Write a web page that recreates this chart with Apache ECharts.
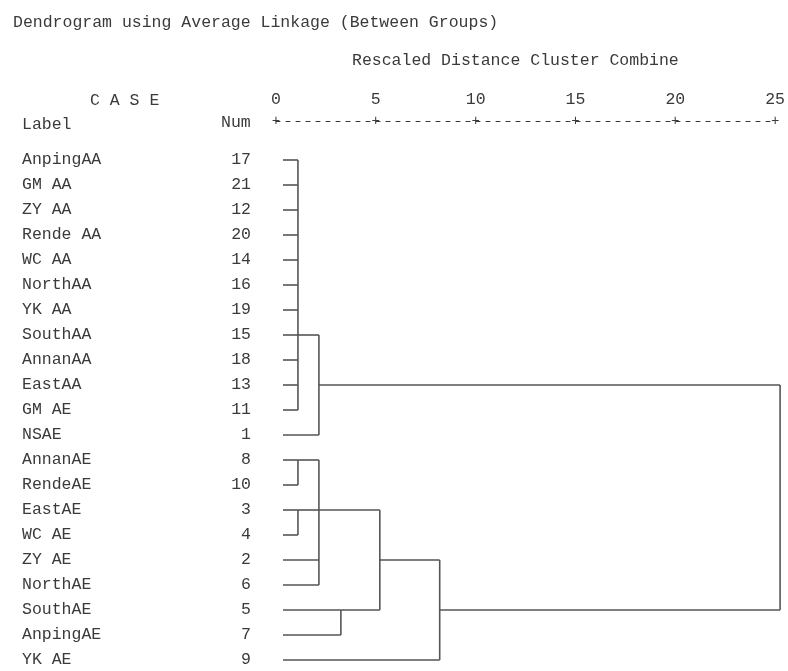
<!DOCTYPE html>
<html><head><meta charset="utf-8">
<script src="https://cdn.jsdelivr.net/npm/echarts@6/dist/echarts.min.js"></script>
<style>html,body{margin:0;padding:0;background:#fff}#c{width:788px;height:671px}</style>
</head><body><div id="c"></div>
<script>
// Cases, top to bottom
const caseLabels = ['AnpingAA','GM AA','ZY AA','Rende AA','WC AA','NorthAA','YK AA','SouthAA','AnnanAA','EastAA','GM AE','NSAE','AnnanAE','RendeAE','EastAE','WC AE','ZY AE','NorthAE','SouthAE','AnpingAE','YK AE'];
const caseNums = [17,21,12,20,14,16,19,15,18,13,11,1,8,10,3,4,2,6,5,7,9];
const xTickStep = 5;
const xMin = 0, xMax = 25;
const leafStart = 0.35;
// Merges: children are case rows (numbers) or earlier merges ('n' + index)
const mergeChildren = [
  [0,1,2,3,4,5,6,7,8,9,10],
  ['n0',11],
  [12,13],
  [14,15],
  ['n2','n3',16,17],
  [18,19],
  ['n4','n5'],
  ['n6',20],
  ['n1','n7']
];
// rescaled distance at which each merge happens
const mergeDist = [1.1, 2.15, 1.1, 1.1, 2.15, 3.25, 5.2, 8.2, 25.25];
// case row at which each merged cluster's line leaves
const mergeRow = [7, 9, 12, 14, 14, 18, 16, 18, null];

const FONT = 'Liberation Mono';
const TXT = '#3a3a3a';
const LINE = '#555555';

const segments = [];
mergeChildren.forEach((ch, i) => {
  const d = mergeDist[i];
  const rows = [];
  ch.forEach(c => {
    let r, x0;
    if (typeof c === 'number') { r = c; x0 = leafStart; }
    else { const j = +c.slice(1); r = mergeRow[j]; x0 = mergeDist[j]; }
    rows.push(r);
    segments.push([x0, r, d, r]);
  });
  segments.push([d, Math.min(...rows), d, Math.max(...rows)]);
});

const chart = echarts.init(document.getElementById('c'), null, {renderer: 'canvas'});
const tStyle = {fontFamily: FONT, fontSize: 16.5, fontWeight: 'normal', color: TXT};
chart.setOption({
  animation: false,
  backgroundColor: '#fff',
  textStyle: {fontFamily: FONT},
  title: [
    {text: 'Dendrogram using Average Linkage (Between Groups)', left: 13, top: 14, padding: 0, textStyle: tStyle},
    {text: 'Rescaled Distance Cluster Combine', left: 352, top: 52, padding: 0, textStyle: tStyle},
    {text: 'C A S E', left: 90, top: 92, padding: 0, textStyle: tStyle},
    {text: 'Label', left: 22, top: 116, padding: 0, textStyle: tStyle},
    {text: 'Num', left: 221, top: 114, padding: 0, textStyle: tStyle}
  ],
  grid: {left: 276, right: 10, top: 160, bottom: 11, containLabel: false},
  xAxis: {
    type: 'value', position: 'top', min: xMin, max: xMax, interval: xTickStep, offset: 39,
    axisLine: {show: true, lineStyle: {color: TXT, width: 1, type: [4, 6]}},
    axisTick: {show: false},
    splitLine: {show: false},
    axisLabel: {
      margin: -7,
      formatter: v => '{n|' + v + '}\n{p|+}',
      rich: {
        n: {fontFamily: FONT, fontSize: 16.5, color: TXT, lineHeight: 29},
        p: {fontFamily: FONT, fontSize: 14, color: TXT, lineHeight: 14}
      }
    }
  },
  yAxis: {
    type: 'category', inverse: true, boundaryGap: false,
    data: caseLabels,
    axisLine: {show: false}, axisTick: {show: false}, splitLine: {show: false},
    axisLabel: {
      align: 'left', margin: 254, interval: 0,
      formatter: (v, i) => '{a|' + v + '}{b|' + caseNums[i] + '}',
      rich: {
        a: {fontFamily: FONT, fontSize: 16.5, color: TXT, width: 199, align: 'left'},
        b: {fontFamily: FONT, fontSize: 16.5, color: TXT, width: 30, align: 'right'}
      }
    }
  },
  series: [{
    type: 'custom',
    clip: false,
    data: segments,
    encode: {x: [0, 2], y: [1, 3]},
    renderItem: (params, api) => {
      const p1 = api.coord([api.value(0), api.value(1)]);
      const p2 = api.coord([api.value(2), api.value(3)]);
      return {type: 'line', shape: {x1: p1[0], y1: p1[1], x2: p2[0], y2: p2[1]},
        style: {stroke: LINE, lineWidth: 1.6}};
    }
  }]
});
</script></body></html>
